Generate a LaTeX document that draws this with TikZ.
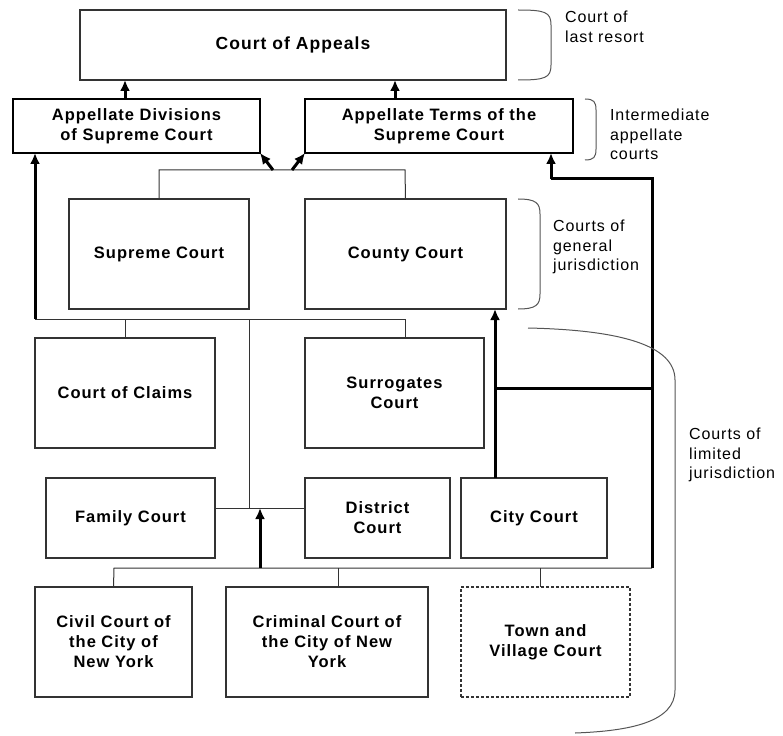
\documentclass[tikz,border=0pt]{standalone}
\usepackage{fontspec}
\setmainfont{Liberation Sans}[LetterSpace=6]
\usetikzlibrary{arrows.meta}
\definecolor{c333333}{RGB}{51,51,51}
\definecolor{c555555}{RGB}{85,85,85}
\tikzset{
  court/.style={draw=c333333,line width=1.2pt,inner sep=0pt,outer sep=0pt,align=center,
    font=\fontsize{16.5}{20}\selectfont\bfseries},
  appcourt/.style={court,draw=black,line width=2pt},
  towncourt/.style={court,dash pattern=on 3pt off 2pt,line width=1.5pt},
  link/.style={draw=c333333,line width=1pt},
  feed/.style={draw=black,line width=3pt},
  up/.style={feed,-{Latex[length=11pt,width=10pt]}},
  brace/.style={draw=c555555,line width=1pt},
  tier/.style={anchor=north west,align=left,inner sep=0pt,outer sep=0pt,
    font=\fontsize{16}{19.5}\selectfont}
}
\begin{document}
\begin{tikzpicture}[y=1pt,x=1pt,yscale=-1]
  \useasboundingbox (0,0) rectangle (783,735);
  \node[court,minimum width=426pt,minimum height=70pt,font=\fontsize{17.5}{20}\selectfont\bfseries]
    (appeals) at (293,45) {Court of Appeals};
  \node[appcourt,minimum width=247pt,minimum height=54pt] (appdiv) at (136.5,126)
    {Appellate Divisions\\of Supreme Court};
  \node[appcourt,minimum width=268pt,minimum height=54pt] (appterm) at (439,126)
    {Appellate Terms of the\\Supreme Court};
  \node[court,minimum width=180pt,minimum height=110pt] (supreme) at (159,254) {Supreme Court};
  \node[court,minimum width=201pt,minimum height=110pt] (county) at (405.5,254) {County Court};
  \node[court,minimum width=180pt,minimum height=110pt] (claims) at (125,393) {Court of Claims};
  \node[court,minimum width=179pt,minimum height=110pt] (surrog) at (394.5,393) {Surrogates\\Court};
  \node[court,minimum width=169pt,minimum height=80pt] (family) at (130.5,518) {Family Court};
  \node[court,minimum width=145pt,minimum height=80pt] (district) at (377.5,518) {District\\Court};
  \node[court,minimum width=146pt,minimum height=80pt] (city) at (534,518) {City Court};
  \node[court,minimum width=157pt,minimum height=110pt] (civil) at (113.5,642)
    {Civil Court of\\the City of\\New York};
  \node[court,minimum width=202pt,minimum height=110pt] (criminal) at (327,642)
    {Criminal Court of\\the City of New\\York};
  \node[towncourt,minimum width=169pt,minimum height=110pt] (town) at (545.5,642)
    {Town and\\Village Court};

  \coordinate (xa) at (125,0);
  \coordinate (xb) at (395,0);
  \coordinate (tl) at (159,170);
  \coordinate (tr) at (405,170);
  \coordinate (dl) at (273,170);
  \coordinate (dr) at (292,170);
  \coordinate (ml) at (35,319);
  \coordinate (mc) at (249,319);
  \coordinate (mr) at (405,319);
  \coordinate (fd) at (249,508);
  \coordinate (fa) at (260,508);
  \coordinate (bl) at (114,568);
  \coordinate (bm) at (338,568);
  \coordinate (bt) at (540,568);
  \coordinate (br) at (652,568);
  \coordinate (rt) at (652,179);
  \coordinate (rc) at (652,388);
  \coordinate (cx) at (495,388);
  \coordinate (at) at (551,179);

  \draw[up] (appdiv.north -| xa) -- (appeals.south -| xa);
  \draw[up] (appterm.north -| xb) -- (appeals.south -| xb);
  \draw[link] (supreme.north) -- (tl) -- (tr) -- (county.north);
  \draw[up] (dl) -- (appdiv.south east);
  \draw[up] (dr) -- (appterm.south west);
  \draw[link] (ml) -- (mr) -- (surrog.north -| mr);
  \draw[link] (claims.north |- ml) -- (claims.north);
  \draw[link] (mc) -- (fd);
  \draw[up] (ml) -- (appdiv.south -| ml);
  \draw[link] (family.east |- fd) -- (district.west |- fd);
  \draw[link] (civil.north) -- (bl) -- (br);
  \draw[link] (bm) -- (criminal.north -| bm);
  \draw[link] (bt) -- (town.north -| bt);
  \draw[up] (bl -| fa) -- (fa);
  \draw[feed] (br) -- (rt) -- (at);
  \draw[up] (at) -- (appterm.south -| at);
  \draw[feed] (rc) -- (cx);
  \draw[up] (city.north -| cx) -- (county.south -| cx);

  \draw[brace] (518,10) .. controls (545,10) and (551,12) .. (551,25) -- (551,65)
    .. controls (551,78) and (545,80) .. (518,80);
  \draw[brace] (585,99) .. controls (594,99) and (596,102) .. (596,110) -- (596,149)
    .. controls (596,157) and (594,160) .. (585,160);
  \draw[brace] (518,199) .. controls (536,199) and (540,203) .. (540,214) -- (540,294)
    .. controls (540,305) and (536,309) .. (518,309);
  \draw[brace] (528,328) .. controls (620,330) and (675,345) .. (675,380) -- (675,690)
    .. controls (675,722) and (630,731) .. (575,733);

  \node[tier] (lastresort) at (565,11) {Court of\\last resort};
  \node[tier] (intermediate) at (610,109) {Intermediate\\appellate\\courts};
  \node[tier] (general) at (553,220) {Courts of\\general\\jurisdiction};
  \node[tier] (limited) at (689,428) {Courts of\\limited\\jurisdiction};
\end{tikzpicture}
\end{document}
